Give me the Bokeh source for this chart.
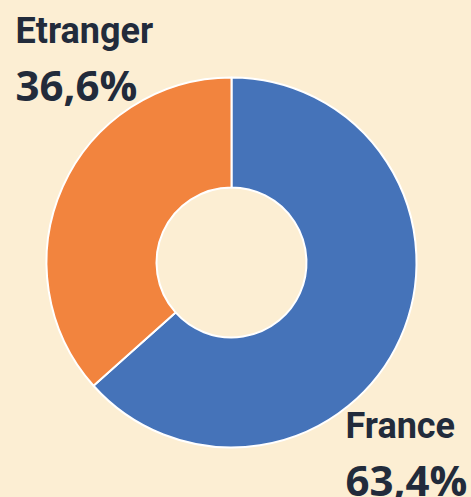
from bokeh.plotting import figure
from bokeh.models import Range1d, ColumnDataSource
from bokeh.core.properties import value
from bokeh.embed import file_html
from bokeh.resources import INLINE
import math

# ---- data ----
categories = ["France", "Etranger"]
shares = [63.4, 36.6]
colors = ["#4573B9", "#F2843E"]
value_labels = ["63,4%", "36,6%"]

BG = "#FCEED3"
INK = "#222B3B"

W, H = 471, 497
p = figure(width=W, height=H, output_backend="svg", toolbar_location=None,
           x_range=Range1d(0, W), y_range=Range1d(0, H),
           min_border=0, background_fill_color=BG, border_fill_color=BG,
           outline_line_color=None)
p.axis.visible = False
p.grid.visible = False

total = sum(shares)
starts, ends = [], []
acc = 0.0
for s in shares:
    a0 = math.pi / 2 - 2 * math.pi * acc / total
    acc += s
    a1 = math.pi / 2 - 2 * math.pi * acc / total
    starts.append(a0)
    ends.append(a1)

src = ColumnDataSource(dict(cat=categories, start=starts, end=ends, color=colors))
cx, cy = 231, 497 - 262
p.annular_wedge(x=cx, y=cy, inner_radius=75, outer_radius=185,
                start_angle="start", end_angle="end", direction="clock",
                fill_color="color", line_color="white", line_width=2, source=src)

# labels: France bottom-right, Etranger top-left
lab = ColumnDataSource(dict(x=[345, 15], y=[497 - 425, 497 - 30], text=categories))
p.text(x="x", y="y", text="text", source=lab, text_font=value("Roboto"),
       text_font_style="bold", text_font_size="36px", text_color=INK,
       text_baseline="alphabetic", text_align="left")
val = ColumnDataSource(dict(x=[345, 15], y=[497 - 479, 497 - 84], text=value_labels))
p.text(x="x", y="y", text="text", source=val, text_font=value("Open Sans"),
       text_font_style="bold", text_font_size="42px", text_color=INK,
       text_baseline="alphabetic", text_align="left")

html = file_html(p, INLINE)
html = html.replace("</head>", "<style>html,body{background:%s;}</style></head>" % BG, 1)
open("out.html", "w").write(html)
